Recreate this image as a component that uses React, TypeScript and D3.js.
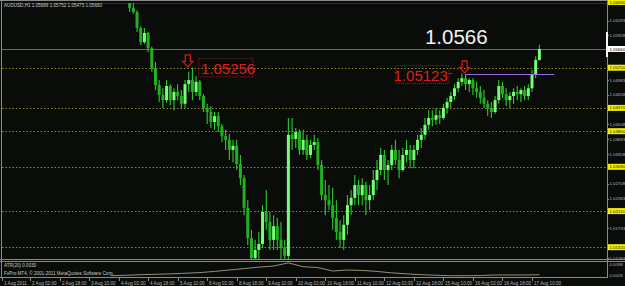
import React from "react";
import * as d3 from "d3";

// ---------- data ----------
const symbolHeader = "AUDUSD,H1  1.05689 1.05752 1.05475 1.05660";
const timeLabels = [
  "1 Aug 2011", "2 Aug 02:00", "2 Aug 18:00", "3 Aug 10:00", "4 Aug 02:00", "4 Aug 18:00",
  "5 Aug 10:00", "8 Aug 02:00", "8 Aug 18:00", "9 Aug 10:00", "10 Aug 02:00", "10 Aug 18:00",
  "11 Aug 10:00", "12 Aug 02:00", "12 Aug 18:00", "15 Aug 10:00", "16 Aug 02:00", "16 Aug 18:00",
  "17 Aug 10:00",
];
const timeLabelHours = [-15, 0, 16, 32, 48, 64, 80, 96, 112, 128, 144, 160, 176, 192, 208, 224, 240, 256, 272];

const barStartHour = 48;
const barStepHours = 2;
const firstOpen = 1.076;
const barHigh = [
  1.0772, 1.0748, 1.0728, 1.0702, 1.0669, 1.0651, 1.0616, 1.0612, 1.0603, 1.0571,
  1.0537, 1.0498, 1.048, 1.0498, 1.0489, 1.048, 1.0489, 1.0476, 1.0498, 1.0516,
  1.05256, 1.0507, 1.0498, 1.0467, 1.0446, 1.0441, 1.0428, 1.0428, 1.0402, 1.0389,
  1.038, 1.0367, 1.0367, 1.0334, 1.029, 1.0235, 1.017, 1.0148, 1.0165, 1.0224,
  1.0257, 1.0209, 1.0202, 1.0196, 1.0187, 1.0148, 1.0415, 1.0415, 1.0393, 1.039,
  1.0389, 1.0378, 1.0367, 1.0378, 1.0371, 1.0323, 1.0279, 1.0268, 1.0262, 1.0235,
  1.0191, 1.0202, 1.0246, 1.0257, 1.029, 1.0279, 1.0283, 1.0275, 1.0268, 1.0301,
  1.0323, 1.0349, 1.0345, 1.0323, 1.0356, 1.0367, 1.0345, 1.0349, 1.0367, 1.0356,
  1.0356, 1.0378, 1.0393, 1.0415, 1.0432, 1.0432, 1.0437, 1.0432, 1.0446, 1.0459,
  1.0472, 1.0489, 1.0502, 1.05123, 1.0511, 1.0502, 1.0502, 1.0494, 1.0485, 1.0476,
  1.0454, 1.045, 1.0463, 1.0498, 1.0494, 1.048, 1.0472, 1.048, 1.0485, 1.048,
  1.0485, 1.0489, 1.052, 1.055, 1.05752,
];
const barLow = [
  1.0735, 1.0712, 1.069, 1.0647, 1.0643, 1.0603, 1.0575, 1.0577, 1.0559, 1.0516,
  1.0476, 1.045, 1.0437, 1.0448, 1.0443, 1.0432, 1.0454, 1.0437, 1.0437, 1.0472,
  1.0454, 1.0463, 1.0454, 1.0428, 1.0402, 1.0393, 1.0389, 1.0384, 1.0362, 1.0345,
  1.0323, 1.0318, 1.0301, 1.0268, 1.0202, 1.0137, 1.005, 1.003, 1.01, 1.013,
  1.017, 1.0126, 1.0126, 1.0126, 1.006, 1.002, 0.9995, 1.0345, 1.0349, 1.0334,
  1.0334, 1.0323, 1.0327, 1.0345, 1.0301, 1.0235, 1.0202, 1.0213, 1.017, 1.0148,
  1.013, 1.0126, 1.0159, 1.0202, 1.0224, 1.0224, 1.0224, 1.0202, 1.0213, 1.0235,
  1.0257, 1.029, 1.0279, 1.0268, 1.0301, 1.0312, 1.0283, 1.0297, 1.0318, 1.0305,
  1.0305, 1.0334, 1.0349, 1.0367, 1.0389, 1.0397, 1.04, 1.0402, 1.0411, 1.0424,
  1.0437, 1.0454, 1.0472, 1.0485, 1.0476, 1.0472, 1.0465, 1.0459, 1.0446, 1.0437,
  1.0419, 1.0415, 1.0424, 1.0446, 1.0459, 1.0441, 1.0437, 1.0446, 1.0454, 1.045,
  1.0454, 1.0454, 1.0472, 1.0502, 1.054,
];
const barClose = [
  1.0742, 1.072, 1.0698, 1.0656, 1.0647, 1.0612, 1.0581, 1.0601, 1.0568, 1.0524,
  1.0487, 1.0465, 1.0454, 1.0485, 1.0454, 1.0472, 1.0463, 1.0446, 1.0489, 1.0498,
  1.0472, 1.0494, 1.0463, 1.0437, 1.0428, 1.0406, 1.0419, 1.0397, 1.0375, 1.0367,
  1.0345, 1.0354, 1.0314, 1.0283, 1.0218, 1.0152, 1.0108, 1.0126, 1.0139, 1.0209,
  1.0187, 1.0148, 1.0178, 1.0148, 1.013, 1.0113, 1.0378, 1.0369, 1.0384, 1.0345,
  1.0367, 1.0334, 1.0356, 1.0362, 1.0312, 1.0246, 1.0235, 1.0224, 1.0196, 1.0165,
  1.0148, 1.0181, 1.0224, 1.024, 1.0268, 1.0246, 1.0268, 1.0235, 1.0246, 1.0279,
  1.0301, 1.0334, 1.0301, 1.0312, 1.0345, 1.0323, 1.0301, 1.0334, 1.0345, 1.0323,
  1.0345, 1.0367, 1.0378, 1.04, 1.0415, 1.0411, 1.0421, 1.0415, 1.0437, 1.045,
  1.0463, 1.048, 1.0494, 1.0502, 1.0489, 1.0498, 1.048, 1.0472, 1.0459, 1.0446,
  1.0437, 1.0428, 1.0454, 1.0485, 1.0467, 1.0454, 1.0463, 1.0472, 1.0467, 1.0476,
  1.0463, 1.048, 1.0511, 1.0542, 1.0566,
];

const priceTicks = [
  1.01083, 1.01408, 1.01733, 1.02058, 1.02383, 1.02708, 1.03033, 1.03358, 1.03683,
  1.04008, 1.04333, 1.04658, 1.04983, 1.05308, 1.05633, 1.05958, 1.06283, 1.06608,
];
const levelPrices = [1.0669, 1.0525, 1.0437, 1.0386, 1.0308, 1.0211, 1.0132];
const levelDotted = [false, true, true, true, true, true, true];
const bidPrice = 1.0566;

const markPrices = [1.05256, 1.05123];
const markLabelHours = [92, 227];
const markArrowHours = [85.5, 235.5];
const hLineStartHour = 236;
const hLineEndHour = 284;
const bigLabel = "1.0566";
const bigLabelHour = 231;

const atrHours = [44, 52, 60, 68, 76, 84, 92, 100, 108, 116, 124, 132, 140, 148, 156, 164, 172, 180, 188, 196, 204, 212, 220, 228, 236, 244, 252, 260, 268, 276];
const atrValues = [0.0018, 0.0021, 0.0025, 0.0028, 0.0031, 0.0035, 0.004, 0.0048, 0.0058, 0.0068, 0.0078, 0.0086, 0.0108, 0.0081, 0.0075, 0.0051, 0.0058, 0.0055, 0.0048, 0.0038, 0.0031, 0.0025, 0.0021, 0.0018, 0.0018, 0.0019, 0.0023, 0.0023, 0.0023, 0.0025];
const atrTicks = [0.0098, 0.0018];
const atrHeader = "ATR(20) 0.0030";
const copyright = "FxPro MT4, \u00A9 2001-2011 MetaQuotes Software Corp.";

// ---------- chart ----------
const W = 625;
const H = 286;
const plotL = 2;
const plotR = 607;
const plotT = 3;
const plotB = 259;

export default function App() {
  const x = d3.scaleLinear().domain([0, 272]).range([30, 532]);
  const y = d3.scaleLinear().domain([1.01083, 1.06667]).range([258, 3]);
  const yAtr = d3.scaleLinear().domain([0.0018, 0.0098]).range([275.7, 264.3]);
  const fmt = d3.format(".5f");
  const font = "'Liberation Sans', Arial, sans-serif";
  const bg = "#0a0c0a";
  const axisGray = "#8a8a8a";
  const axFont = 4.3;

  const atrLine = d3
    .line<number>()
    .x((_, i) => x(atrHours[i]))
    .y((d) => yAtr(d))
    .curve(d3.curveLinear)(atrValues);

  const arrowPath = "M -2.5,-12 L 2.5,-12 L 2.5,-5.5 L 5,-5.5 L 0,0 L -5,-5.5 L -2.5,-5.5 Z";

  const markerYs = [...levelPrices, bidPrice].map((p) => y(p));
  const visibleTicks = priceTicks.filter((p) => markerYs.every((my) => Math.abs(y(p) - my) >= 6));

  return (
    <svg
      width={W}
      height={H}
      style={{ position: "fixed", left: 0, top: 0, background: bg, display: "block" }}
    >
      <defs>
        <clipPath id="plot">
          <rect x={plotL} y={plotT} width={plotR - plotL} height={plotB - plotT} />
        </clipPath>
      </defs>
      <rect x={0} y={0} width={W} height={H} fill={bg} />

      {/* frame */}
      <line x1={1.5} x2={1.5} y1={0} y2={278} stroke={axisGray} />
      <line x1={0} x2={W} y1={0.5} y2={0.5} stroke={axisGray} />
      <line x1={plotR + 0.5} x2={plotR + 0.5} y1={0} y2={278} stroke={axisGray} />

      <g clipPath="url(#plot)">
        {levelPrices.map((p, i) => (
          <line
            key={"lv" + i}
            x1={plotL}
            x2={plotR}
            y1={Math.round(y(p)) + 0.5}
            y2={Math.round(y(p)) + 0.5}
            stroke={levelDotted[i] ? "#8c8a1e" : "#a8a050"}
            strokeWidth={levelDotted[i] ? 1 : 1.5}
            strokeDasharray={levelDotted[i] ? "1.5,2" : undefined}
          />
        ))}
        <line
          x1={plotL}
          x2={plotR}
          y1={Math.round(y(bidPrice)) + 0.5}
          y2={Math.round(y(bidPrice)) + 0.5}
          stroke="#5d6a80"
        />
        {barClose.map((c, j) => {
          const o = j === 0 ? firstOpen : barClose[j - 1];
          const cx = x(barStartHour + j * barStepHours);
          const bull = c >= o;
          const top = y(Math.max(o, c));
          const bot = y(Math.min(o, c));
          return (
            <g key={"b" + j}>
              <line x1={cx} x2={cx} y1={y(barHigh[j])} y2={y(barLow[j])} stroke="#2bcc2b" strokeWidth={1.1} />
              <rect
                x={cx - 1.5}
                width={3}
                y={top}
                height={Math.max(1, bot - top)}
                fill={bull ? "#74ff74" : "#22b022"}
              />
            </g>
          );
        })}
        <line
          x1={x(hLineStartHour)}
          x2={x(hLineEndHour)}
          y1={Math.round(y(markPrices[1])) + 0.5}
          y2={Math.round(y(markPrices[1])) + 0.5}
          stroke="#9a6ae0"
          strokeWidth={1.2}
        />
      </g>

      {/* annotations */}
      {markPrices.map((p, i) => {
        const ax = x(markArrowHours[i]);
        const ay = y(p) - 0.5;
        return (
          <path key={"ar" + i} d={arrowPath} transform={`translate(${ax},${ay})`} fill="none" stroke="#d01818" strokeWidth={1.3} />
        );
      })}
      <g transform={`translate(${x(markLabelHours[0])},${y(markPrices[0])})`}>
        <rect x={-1} y={-9} width={54} height={18.5} fill="none" stroke="#a01414" strokeWidth={1} strokeDasharray="1,1" />
        <text x={1.2} y={6.8} fill="#e41a1a" fontFamily={font} fontSize={15}>
          {fmt(markPrices[0])}
        </text>
      </g>
      <g transform={`translate(${x(markLabelHours[1])},${y(markPrices[1])})`}>
        <rect x={-53} y={-8} width={53} height={18} fill="none" stroke="#a01414" strokeWidth={1} strokeDasharray="1,1" />
        <line x1={0} x2={3.5} y1={0} y2={0} stroke="#d01818" />
        <text x={-1.2} y={7.6} fill="#e41a1a" fontFamily={font} fontSize={15} textAnchor="end">
          {fmt(markPrices[1])}
        </text>
      </g>
      <text x={x(bigLabelHour)} y={y(bidPrice) - 5} fill="#f2f2f2" fontFamily={font} fontSize={20.5} textAnchor="middle">
        {bigLabel}
      </text>

      <text x={4} y={7} fill="#c8c8c8" fontFamily={font} fontSize={4.6}>
        {symbolHeader}
      </text>

      {/* right price axis */}
      {visibleTicks.map((p, i) => (
        <g key={"pt" + i}>
          <line x1={plotR} x2={plotR + 2} y1={Math.round(y(p)) + 0.5} y2={Math.round(y(p)) + 0.5} stroke={axisGray} />
          <text x={609.5} y={y(p) + 1.6} fill="#b4b4b4" fontFamily={font} fontSize={axFont}>
            {fmt(p)}
          </text>
        </g>
      ))}
      {levelPrices.map((p, i) => (
        <g key={"lb" + i}>
          <rect x={plotR + 1} y={y(p) - 3} width={W - plotR} height={6} fill="#f0f000" />
          <text x={609.5} y={y(p) + 1.6} fill="#202000" fontFamily={font} fontSize={axFont}>
            {fmt(p)}
          </text>
        </g>
      ))}
      <rect x={plotR + 1} y={y(bidPrice) - 3} width={W - plotR} height={6} fill="#ffffff" />
      <text x={609.5} y={y(bidPrice) + 1.6} fill="#000" fontFamily={font} fontSize={axFont}>
        {fmt(bidPrice)}
      </text>
      <rect x={plotR - 1} y={y(bidPrice) - 17} width={2} height={25} fill="#f4f4f4" />

      {/* indicator separator */}
      <line x1={0} x2={W} y1={259.5} y2={259.5} stroke={axisGray} />
      <line x1={0} x2={W} y1={261.5} y2={261.5} stroke={axisGray} />
      <line x1={0} x2={plotR + 1} y1={277.5} y2={277.5} stroke={axisGray} />

      {/* ATR pane */}
      <path d={atrLine || ""} fill="none" stroke="#a39c84" strokeWidth={0.9} />
      <text x={4} y={267} fill="#c8c8c8" fontFamily={font} fontSize={4.6}>
        {atrHeader}
      </text>
      <text x={4} y={275} fill="#c8c8c8" fontFamily={font} fontSize={4.6}>
        {copyright}
      </text>
      {atrTicks.map((v, i) => (
        <text key={"at" + i} x={609.5} y={yAtr(v) + 1.6} fill="#b4b4b4" fontFamily={font} fontSize={axFont}>
          {d3.format(".4f")(v)}
        </text>
      ))}

      {/* time axis */}
      {timeLabels.map((t, i) => {
        const tx = Math.round(x(timeLabelHours[i])) + 0.5;
        return (
          <g key={"tl" + i}>
            <line x1={tx} x2={tx} y1={278} y2={281} stroke={axisGray} />
            <text x={tx + 1.5} y={284.5} fill="#b4b4b4" fontFamily={font} fontSize={4.6}>
              {t}
            </text>
          </g>
        );
      })}
    </svg>
  );
}
